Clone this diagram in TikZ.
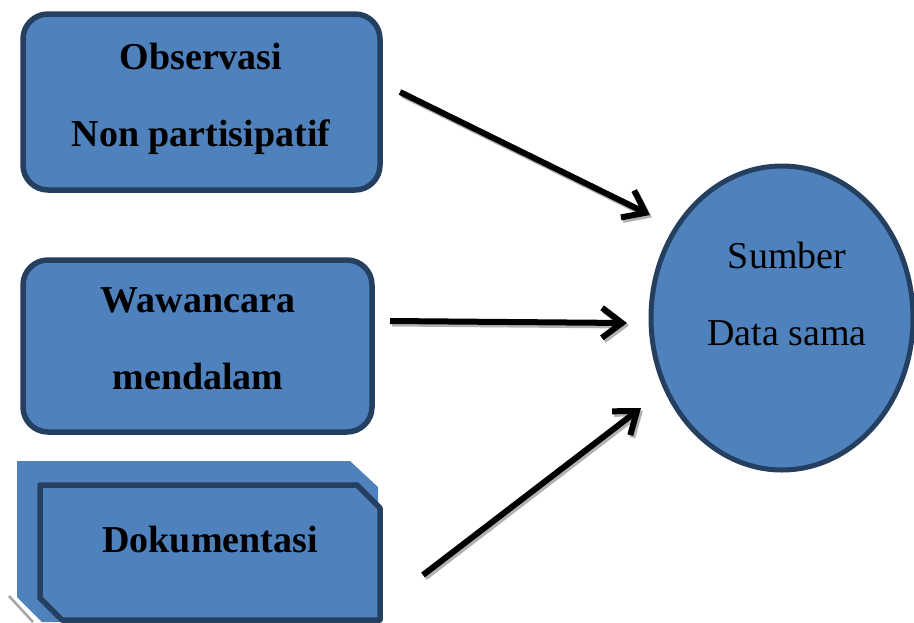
\documentclass[tikz,border=0pt]{standalone}
\usepackage{fontspec}
\setmainfont{Liberation Serif}
\usetikzlibrary{arrows.meta,shapes.geometric}

\definecolor{boxblue}{HTML}{4F81BD}
\definecolor{boxedge}{HTML}{243F60}

\begin{document}
\begin{tikzpicture}[x=1pt,y=-1pt,
	box/.style={draw=boxedge, fill=boxblue, line width=5.5pt, rounded corners=25pt},
	boxtext/.style={align=center, font=\fontsize{38}{77}\selectfont\bfseries},
	arr/.style={line width=6pt, -{Straight Barb[length=20pt,width=30pt,line width=6pt]}},
	arrshadow/.style={arr, draw=gray!60, transform canvas={shift={(2pt,-2.5pt)}}}]
	
	\useasboundingbox (0,0) rectangle (914,622);
	
	%--- Boxes on the left ---
	\node[box, minimum width=357pt, minimum height=176pt] (obs) at (201.5,102) {};
	\node[boxtext] (obstxt) at (201,99) {Observasi\\Non partisipatif};
	\node[box, minimum width=349pt, minimum height=172pt] (waw) at (197.5,346) {};
	\node[boxtext] (wawtxt) at (198,339) {Wawancara\\mendalam};
	
	%--- Dokumentasi (snipped shape, cut off at the bottom) ---
	\draw[gray!70, line width=2.5pt] (9,596) -- (33,622);
	\fill[boxblue] (17,461) -- (350,461) -- (378,487) -- (378,622) -- (42,622) -- (17,597) -- cycle;
	\draw[boxedge, fill=boxblue, line width=5.5pt, line join=round]
	(40,485) -- (357,485) -- (380,508) -- (380,620) -- (62,620) -- (40,598) -- cycle;
	\node[font=\fontsize{38}{44}\selectfont\bfseries] (dok) at (210,540) {Dokumentasi};
	
	%--- Ellipse on the right ---
	\node[ellipse, draw=boxedge, fill=boxblue, line width=5pt,
	minimum width=262pt, minimum height=304pt] (sumber) at (782,318) {};
	\node[align=center, font=\fontsize{38}{77}\selectfont] (sumbertxt) at (787,294)
	{Sumber\\Data sama};
	
	% arrow end points
	\coordinate (a1s) at (400,92);   \coordinate (a1e) at (650,215);
	\coordinate (a2s) at (390,321);  \coordinate (a2e) at (627,323);
	\coordinate (a3s) at (423,575);  \coordinate (a3e) at (641,408);
	
	% shadows
	\draw[arrshadow] (a1s) -- (a1e);
	\draw[arrshadow] (a2s) -- (a2e);
	\draw[arrshadow] (a3s) -- (a3e);
	
	% arrows
	\draw[arr] (a1s) -- (a1e);
	\draw[arr] (a2s) -- (a2e);
	\draw[arr] (a3s) -- (a3e);
	
\end{tikzpicture}
\end{document}
